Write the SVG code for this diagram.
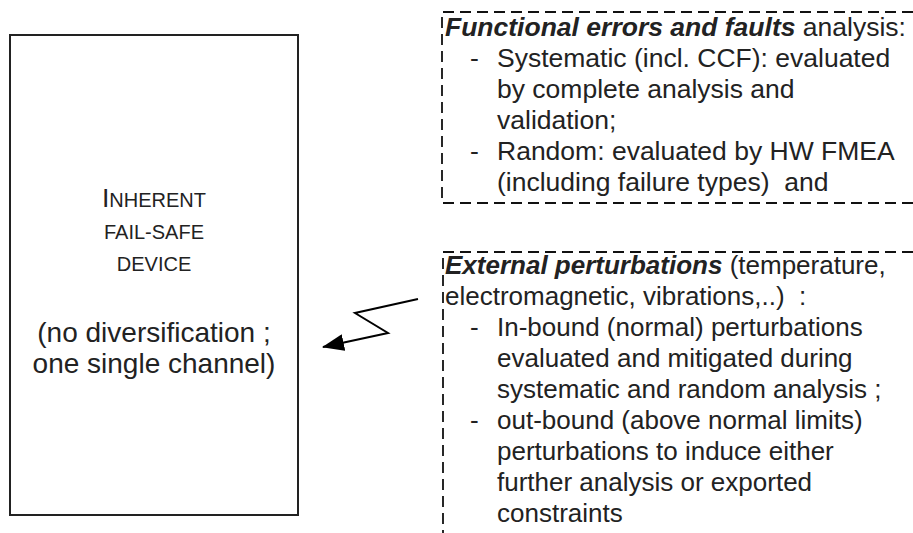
<svg xmlns="http://www.w3.org/2000/svg" width="913" height="533" viewBox="0 0 913 533">
  <style>
    text { font-family: "Liberation Sans", Arial, sans-serif; fill: #222; font-size: 26.5px; }
    #external text { font-size: 26px; }
    .em { font-weight: bold; font-style: italic; }
    .big { font-size: 28px; }
    .sc { font-size: 20px; }
    .frame { fill: none; stroke: #222; stroke-width: 2; }
    .dash { fill: none; stroke: #111; stroke-width: 1.8; stroke-dasharray: 11 6; }
    .bolt { fill: none; stroke: #000; stroke-width: 2; }
  </style>
  <defs>
    <marker id="head" viewBox="0 0 22 17" refX="21" refY="8.5" markerWidth="22" markerHeight="17" markerUnits="userSpaceOnUse" orient="auto">
      <path d="M0 0 L22 8.5 L0 17 Z" fill="#000"/>
    </marker>
  </defs>

  <!-- single-channel device -->
  <g id="device">
    <rect class="frame" x="10" y="35" width="288" height="480"/>
    <text x="154" y="207" text-anchor="middle">I<tspan class="sc">NHERENT</tspan></text>
    <text x="154" y="239" text-anchor="middle" class="sc">FAIL-SAFE</text>
    <text x="154" y="271" text-anchor="middle" class="sc">DEVICE</text>
    <text x="154" y="342" text-anchor="middle" class="big">(no diversification ;</text>
    <text x="154" y="373" text-anchor="middle" class="big">one single channel)</text>
  </g>

  <!-- functional errors and faults -->
  <g id="functional">
    <path class="dash" d="M913 12 H442 V203 H913"/>
    <text x="445" y="36"><tspan class="em">Functional errors and faults</tspan> analysis:</text>
    <text x="470" y="67">-</text><text x="497" y="67">Systematic (incl. CCF): evaluated</text>
    <text x="497" y="98">by complete analysis and</text>
    <text x="497" y="129">validation;</text>
    <text x="470" y="160">-</text><text x="497" y="160">Random: evaluated by HW FMEA</text>
    <text x="497" y="191">(including failure types)&#160; and</text>
  </g>

  <!-- external perturbations -->
  <g id="external">
    <path class="dash" d="M913 252 H443 V533"/>
    <text x="445" y="274"><tspan class="em">External perturbations</tspan> (temperature,</text>
    <text x="445" y="305">electromagnetic, vibrations,..)&#160; :</text>
    <text x="470" y="336">-</text><text x="497" y="336">In-bound (normal) perturbations</text>
    <text x="497" y="367">evaluated and mitigated during</text>
    <text x="497" y="398">systematic and random analysis ;</text>
    <text x="470" y="429">-</text><text x="497" y="429">out-bound (above normal limits)</text>
    <text x="497" y="460">perturbations to induce either</text>
    <text x="497" y="491">further analysis or exported</text>
    <text x="497" y="522">constraints</text>
  </g>

  <!-- perturbation acting on the device -->
  <g id="connectors">
    <polyline class="bolt" points="418,299 355,313 388,333 323,347" marker-end="url(#head)"/>
  </g>
</svg>
